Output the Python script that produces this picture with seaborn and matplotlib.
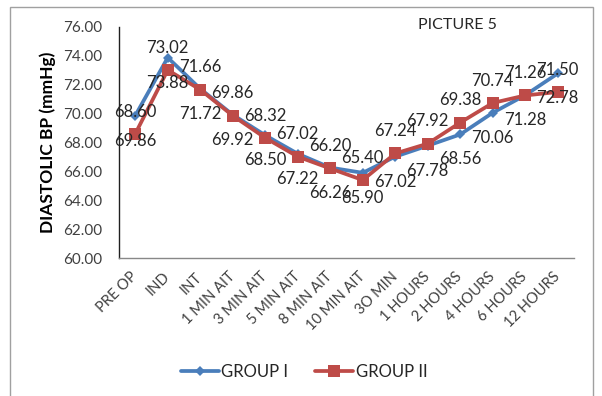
import matplotlib
matplotlib.use("Agg")
import matplotlib.pyplot as plt
import matplotlib.transforms as mtransforms
import seaborn as sns
import pandas as pd
from matplotlib.patches import Rectangle

# Time points of measurement
times = ["PRE OP", "IND", "INT", "1 MIN AIT", "3 MIN AIT", "5 MIN AIT", "8 MIN AIT",
         "10 MIN AIT", "3O MIN", "1 HOURS", "2 HOURS", "4 HOURS", "6 HOURS", "12 HOURS"]

# Mean diastolic BP (mmHg) per group
group_1 = [69.86, 73.88, 71.72, 69.92, 68.50, 67.22, 66.26, 65.90, 67.02, 67.78,
           68.56, 70.06, 71.28, 72.78]
group_2 = [68.60, 73.02, 71.66, 69.86, 68.32, 67.02, 66.20, 65.40, 67.24, 67.92,
           69.38, 70.74, 71.26, 71.50]

series_names = ["GROUP I", "GROUP II"]
y_ticks = [60, 62, 64, 66, 68, 70, 72, 74, 76]

sns.set_style("white")
plt.rcParams["font.family"] = ["Lato", "DejaVu Sans"]

df = pd.DataFrame({
    "pos": list(range(len(times))) * 2,
    "bp": group_1 + group_2,
    "group": [series_names[0]] * len(times) + [series_names[1]] * len(times),
})

colors = {"GROUP I": "#4a7ebb", "GROUP II": "#be4b48"}

fig = plt.figure(figsize=(6.02, 3.96), dpi=100)
ax = fig.add_axes([119 / 602, 1 - 258 / 396, 455 / 602, 231 / 396])

sns.lineplot(data=df, x="pos", y="bp", hue="group", style="group",
             palette=colors, markers={"GROUP I": "D", "GROUP II": "s"},
             dashes=False, linewidth=2.7, ax=ax, legend=False)
for line, ms in zip(ax.lines, [5.5, 8.5]):
    line.set_markersize(ms)
    line.set_markeredgewidth(0)

# value labels: group II above its points, group I below
for i, (v1, v2) in enumerate(zip(group_1, group_2)):
    ax.annotate(f"{v2:.2f}", (i, v2), xytext=(0, 16), textcoords="offset points",
                ha="center", va="center", fontsize=12, color="#262626")
    ax.annotate(f"{v1:.2f}", (i, v1), xytext=(0, -18), textcoords="offset points",
                ha="center", va="center", fontsize=12, color="#262626")

ax.set_xlim(-0.5, len(times) - 0.5)
ax.set_ylim(60, 76)
ax.set_yticks(y_ticks)
ax.set_yticklabels([f"{t:.2f}" for t in y_ticks], fontsize=11, color="#404040")
ax.set_xticks(range(len(times)))
ax.set_xticklabels(times, rotation=45, ha="right", va="center", rotation_mode="anchor",
                   fontsize=10.5, color="#404040")
shift = mtransforms.ScaledTranslation(4 / 100, 0, fig.dpi_scale_trans)
for lab in ax.get_xticklabels():
    lab.set_transform(lab.get_transform() + shift)
ax.tick_params(axis="both", length=0)
ax.tick_params(axis="x", pad=12)
ax.tick_params(axis="y", pad=12)
ax.set_xlabel("")
ax.set_ylabel("DIASTOLIC BP (mmHg)", fontsize=12.5, fontweight="bold", color="black",
              labelpad=5)

for side in ["top", "right"]:
    ax.spines[side].set_visible(False)
ax.spines["left"].set_color("#202020")
ax.spines["left"].set_linewidth(1.0)
ax.spines["bottom"].set_color("#888888")
ax.spines["bottom"].set_linewidth(1.0)

fig.text(457 / 602, 1 - 25 / 396, "PICTURE 5", ha="center", va="center",
         fontsize=11.5, color="#262626")

handles = [plt.Line2D([], [], color=colors["GROUP I"], marker="D", markersize=5,
                      markeredgewidth=0, linewidth=2.7),
           plt.Line2D([], [], color=colors["GROUP II"], marker="s", markersize=8,
                      markeredgewidth=0, linewidth=2.7)]
fig.legend(handles, series_names, loc="center", bbox_to_anchor=(0.505, 1 - 372 / 396),
           ncol=2, frameon=False, fontsize=12, handlelength=2.3, handletextpad=0.15,
           columnspacing=1.6, labelcolor="#262626")

# chart border
fig.patches.append(Rectangle((10 / 602, -0.02), 583 / 602, 1.02 - 7 / 396,
                             transform=fig.transFigure, fill=False,
                             edgecolor="#a0a0a0", linewidth=1.0))

fig.savefig("out.png", dpi=100, facecolor="white")
